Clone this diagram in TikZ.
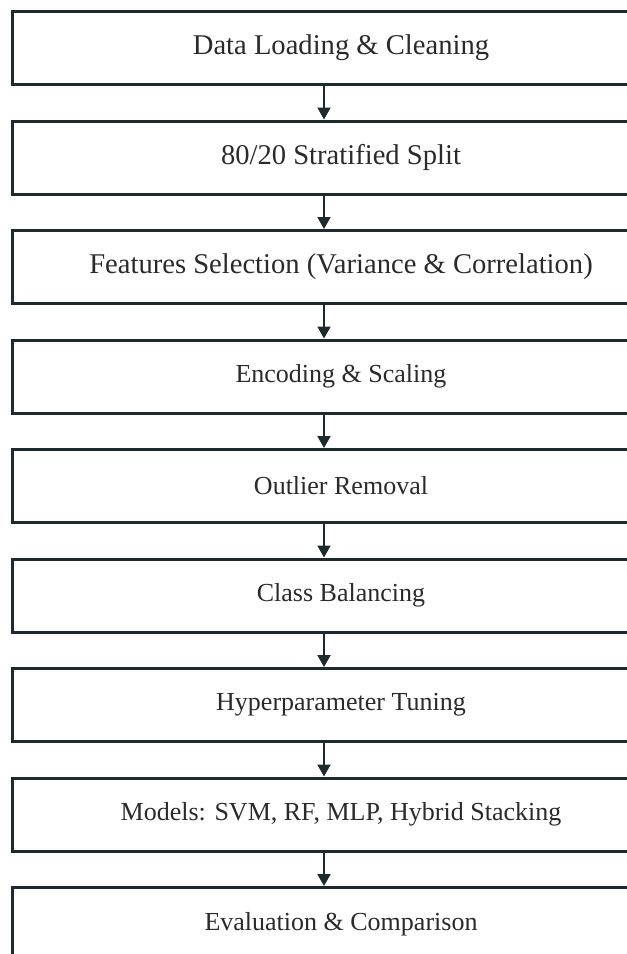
\documentclass[tikz,border=0pt]{standalone}
\usepackage{fontspec}
\setmainfont{Liberation Serif}
\usepackage{tikz}
\usetikzlibrary{matrix,arrows.meta}
\definecolor{boxline}{HTML}{1E2A2C}
\definecolor{boxtext}{HTML}{2A2A2A}
\tikzset{
  stage/.style={draw=boxline, line width=1.5pt, fill=white, text=boxtext,
    minimum width=328pt, minimum height=36.5pt, inner sep=0pt,
    font=\fontsize{14.3}{17}\selectfont},
  stagesm/.style={font=\fontsize{13}{16}\selectfont},
  flow/.style={draw=boxline, line width=1pt, -{Triangle[length=6pt,width=6.5pt]}}
}

\begin{document}
\begin{tikzpicture}
			\useasboundingbox (0,0) rectangle (313.5pt,-477pt);
			\matrix (m) at (170.5pt,-243pt) [matrix of nodes, nodes={stage}, row sep=16.75pt]
			{ Data Loading \& Cleaning \\
			  80/20 Stratified Split \\
			  Features Selection (Variance \& Correlation) \\
			  |[stagesm]| Encoding \& Scaling \\
			  |[stagesm]| Outlier Removal \\
			  |[stagesm]| Class Balancing \\
			  |[stagesm]| Hyperparameter Tuning \\
			  |[stagesm]| Models: SVM, RF, MLP, Hybrid Stacking \\
			  |[stagesm]| Evaluation \& Comparison \\};
			\path[every edge/.style=flow]
			([xshift=-8.5pt]m-1-1.south) edge ([xshift=-8.5pt]m-2-1.north)
			([xshift=-8.5pt]m-2-1.south) edge ([xshift=-8.5pt]m-3-1.north)
			([xshift=-8.5pt]m-3-1.south) edge ([xshift=-8.5pt]m-4-1.north)
			([xshift=-8.5pt]m-4-1.south) edge ([xshift=-8.5pt]m-5-1.north)
			([xshift=-8.5pt]m-5-1.south) edge ([xshift=-8.5pt]m-6-1.north)
			([xshift=-8.5pt]m-6-1.south) edge ([xshift=-8.5pt]m-7-1.north)
			([xshift=-8.5pt]m-7-1.south) edge ([xshift=-8.5pt]m-8-1.north)
			([xshift=-8.5pt]m-8-1.south) edge ([xshift=-8.5pt]m-9-1.north);

		\end{tikzpicture}
\end{document}
